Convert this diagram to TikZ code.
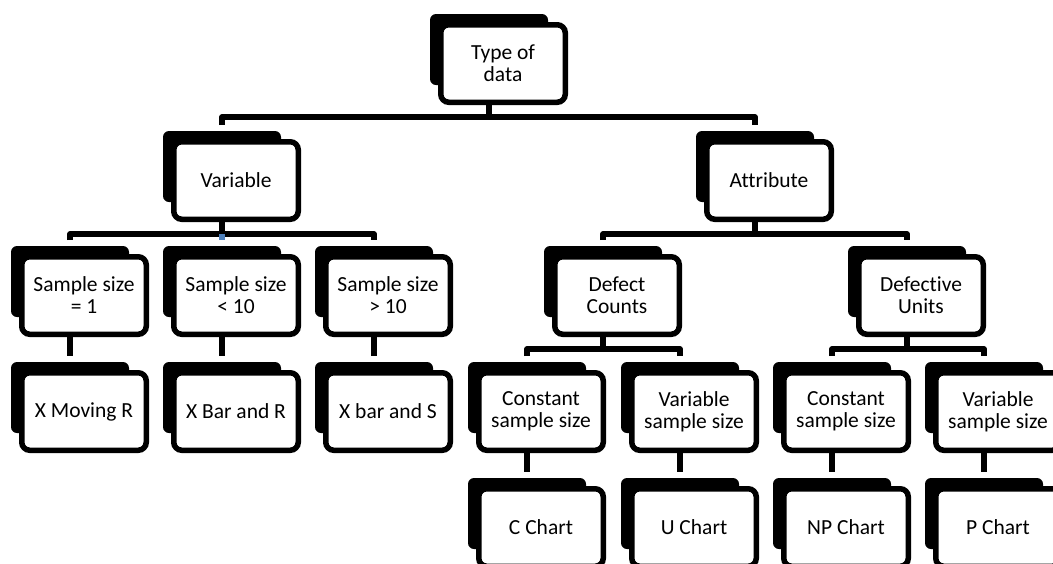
\documentclass[tikz,border=0pt]{standalone}
\usepackage{fontspec}
\setmainfont[Ligatures={NoCommon}]{Carlito}
\definecolor{sablue}{RGB}{79,129,189}
\tikzset{
  backbox/.style={rectangle, fill=black, draw=none, rounded corners=6pt,
    minimum width=118pt, minimum height=71pt, inner sep=0pt, outer sep=0pt},
  whitebox/.style={rectangle, fill=white, draw=black, line width=5.5pt,
    rounded corners=8pt, minimum width=124.5pt, minimum height=77.5pt,
    inner sep=0pt, align=center, font=\fontsize{21.5}{22}\selectfont},
  conn/.style={draw=black, line width=5.5pt, line join=round}
}
\newcommand\chartbox[4]{%
  \node[backbox] (#1b) at ({#2},{#3+35.5}) {};
  \node[whitebox] (#1) at ({#2+14},{#3+49.5}) {#4};}
\begin{document}
\begin{tikzpicture}[x=1pt,y=-1pt]
\useasboundingbox (0,0) rectangle (1053,563);
\clip (0,0) rectangle (1053,563);
% row 0
\chartbox{top}{489}{14}{Type of\\data}
% row 1
\chartbox{var}{222}{131}{Variable}
\chartbox{att}{755}{131}{Attribute}
% row 2
\chartbox{sa}{70}{246}{Sample size\\= 1}
\chartbox{sb}{222}{246}{Sample size\\< 10}
\chartbox{sc}{374}{246}{Sample size\\> 10}
\chartbox{dc}{603}{246}{Defect\\Counts}
\chartbox{du}{907}{246}{Defective\\Units}
% row 3
\chartbox{xm}{70}{362}{X Moving R}
\chartbox{xb}{222}{362}{X Bar and R}
\chartbox{xs}{374}{362}{X bar and S}
\chartbox{ca}{527}{362}{Constant\\sample size}
\chartbox{va}{680}{362}{Variable\\sample size}
\chartbox{cb}{832}{362}{Constant\\sample size}
\chartbox{vb}{984}{362}{Variable\\sample size}
% row 4
\chartbox{cc}{527}{478}{C Chart}
\chartbox{uc}{680}{478}{U Chart}
\chartbox{np}{832}{478}{NP Chart}
\chartbox{pc}{984}{478}{P Chart}
% connectors: top level
\draw[conn] (topb |- top.south) -- ++(0,12) coordinate (topbar);
\draw[conn] ([yshift=6pt]varb.north) |- (topbar) -| ([yshift=6pt]attb.north);
% Variable
\draw[conn] (varb |- var.south) -- ++(0,12) coordinate (varbar);
\draw[conn] ([yshift=6pt]sab.north) |- (varbar) -| ([yshift=6pt]scb.north);
\draw[line width=5.5pt, draw=sablue] (varbar) -- ([yshift=6pt]sbb.north);
% Attribute
\draw[conn] (attb |- att.south) -- ++(0,12) coordinate (attbar);
\draw[conn] ([yshift=6pt]dcb.north) |- (attbar) -| ([yshift=6pt]dub.north);
% single children
\draw[conn] (sab |- sa.south) -- ([yshift=6pt]xmb.north);
\draw[conn] (sbb |- sb.south) -- ([yshift=6pt]xbb.north);
\draw[conn] (scb |- sc.south) -- ([yshift=6pt]xsb.north);
% Defect Counts
\draw[conn] (dcb |- dc.south) -- ++(0,12) coordinate (dcbar);
\draw[conn] ([yshift=6pt]cab.north) |- (dcbar) -| ([yshift=6pt]vab.north);
% Defective Units
\draw[conn] (dub |- du.south) -- ++(0,12) coordinate (dubar);
\draw[conn] ([yshift=6pt]cbb.north) |- (dubar) -| ([yshift=6pt]vbb.north);
% row 3 to row 4
\draw[conn] (cab |- ca.south) -- ([yshift=6pt]ccb.north);
\draw[conn] (vab |- va.south) -- ([yshift=6pt]ucb.north);
\draw[conn] (cbb |- cb.south) -- ([yshift=6pt]npb.north);
\draw[conn] (vbb |- vb.south) -- ([yshift=6pt]pcb.north);
\end{tikzpicture}
\end{document}
